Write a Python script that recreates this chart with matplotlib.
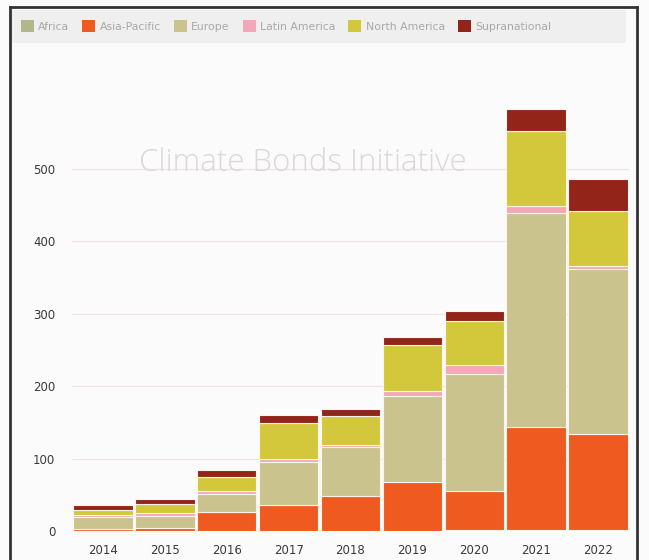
import matplotlib.pyplot as plt
import matplotlib.patches as mpatches
import numpy as np

years = ['2014', '2015', '2016', '2017', '2018', '2019', '2020', '2021', '2022']
regions = ['Africa', 'Asia-Pacific', 'Europe', 'Latin America', 'North America', 'Supranational']
africa = [0.3, 0.3, 0.4, 0.5, 0.5, 0.6, 1.2, 1.0, 1.0]
asia_pacific = [2.5, 3.7, 26.0, 35.0, 48.0, 67.0, 54.0, 143.0, 133.0]
europe = [16.4, 17.0, 24.5, 60.0, 67.3, 119.5, 161.0, 295.0, 227.5]
latin_america = [3.2, 3.7, 4.5, 4.5, 3.2, 6.0, 12.5, 10.0, 4.0]
north_america = [6.0, 12.4, 19.8, 49.3, 39.2, 63.5, 61.0, 104.0, 77.0]
supranational = [7.5, 7.7, 9.3, 10.3, 10.5, 12.0, 14.0, 30.0, 44.0]

series = [africa, asia_pacific, europe, latin_america, north_america, supranational]
colors = ['#b3b68c', '#ee5a1f', '#cbc38e', '#f3a7b9', '#d3c83b', '#92241a']

W, H = 649, 560
fig = plt.figure(figsize=(W / 100, H / 100), dpi=100)
fig.patch.set_facecolor('#fbfbfb')

ax = fig.add_axes([72 / W, (H - 531) / H, (629 - 72) / W, 434.4 / H])
ax.set_facecolor('none')

x = np.arange(len(years))
bottom = np.zeros(len(years))
for vals, col, name in zip(series, colors, regions):
    ax.bar(x, vals, width=0.96, bottom=bottom, color=col, edgecolor='#fbf4ec',
           linewidth=0.8, label=name, zorder=3)
    bottom += np.array(vals)

ax.set_xlim(-0.5, len(years) - 0.5)
ax.set_ylim(0, 600)
ax.set_yticks([0, 100, 200, 300, 400, 500])
ax.set_xticks(x)
ax.set_xticklabels(years)
ax.tick_params(axis='both', length=0, labelsize=8.5, colors='#3a3a3a')
ax.tick_params(axis='y', pad=12)
ax.tick_params(axis='x', pad=9)
for s in ax.spines.values():
    s.set_visible(False)
for v in [100, 200, 300, 400, 500]:
    ax.axhline(v, color='#f1e3e3', linewidth=0.9, zorder=1)

fig.text(303 / W, 1 - 163 / H, 'Climate Bonds Initiative', ha='center', va='center',
         fontsize=22.5, color='#d9d9d9', family='Open Sans', fontweight='light')

# legend band
fig.add_artist(mpatches.Rectangle((12 / W, 1 - 43 / H), (626 - 12) / W, 33 / H,
                                  transform=fig.transFigure, facecolor='#efefef',
                                  edgecolor='none', zorder=0))
handles = [mpatches.Patch(facecolor=c, edgecolor='none', label=n) for c, n in zip(colors, regions)]
leg = fig.legend(handles=handles, loc='center left', bbox_to_anchor=(11 / W, 1 - 26 / H),
                 ncol=6, frameon=False, prop={'size': 7.8},
                 handlelength=1.2, handleheight=1.3,
                 handletextpad=0.4, columnspacing=1.2, labelcolor='#a8a8a8')

# outer frame
fig.add_artist(plt.Line2D([10 / W, 10 / W], [0, 1 - 7 / H], transform=fig.transFigure,
                          color='#333333', linewidth=2))
fig.add_artist(plt.Line2D([10 / W, 637 / W], [1 - 7 / H, 1 - 7 / H], transform=fig.transFigure,
                          color='#333333', linewidth=2))
fig.add_artist(plt.Line2D([637 / W, 637 / W], [0, 1 - 7 / H], transform=fig.transFigure,
                          color='#333333', linewidth=2))

plt.savefig('out.png', dpi=100, facecolor=fig.get_facecolor())
